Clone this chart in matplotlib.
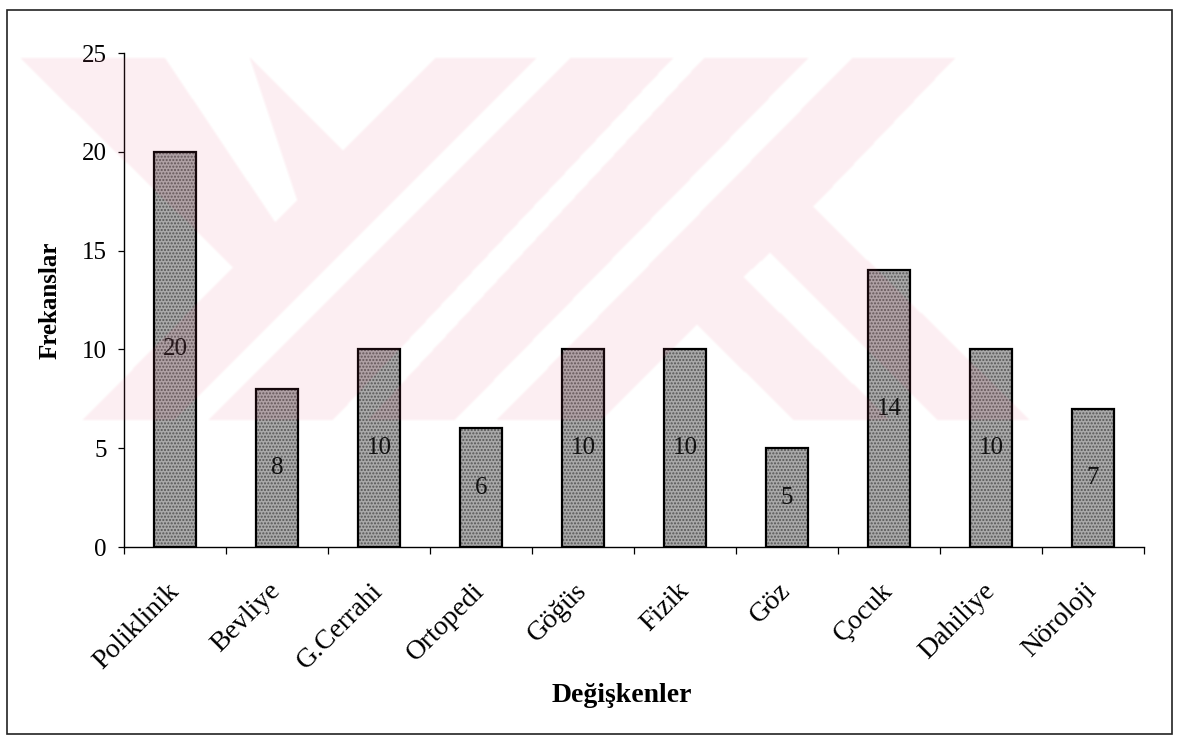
import numpy as np
import matplotlib
matplotlib.use("Agg")
import matplotlib.pyplot as plt
from matplotlib.path import Path
from matplotlib.patches import Rectangle

# polyclinic visit counts
departments = ["Poliklinik", "Bevliye", "G.Cerrahi", "Ortopedi", "Göğüs",
               "Fizik", "Göz", "Çocuk", "Dahiliye", "Nöroloji"]
frequencies = [20, 8, 10, 6, 10, 10, 5, 14, 10, 7]
y_ticks = [0, 5, 10, 15, 20, 25]

plt.rcParams["font.family"] = ["Liberation Serif", "DejaVu Serif"]

W, H = 1180, 740
fig = plt.figure(figsize=(W / 100, H / 100), dpi=100)
ax = fig.add_axes([124 / W, (H - 547) / H, 1020 / W, 494 / H])
ax.patch.set_alpha(0)

x = np.arange(len(departments))
# stippled grey fill, then a black outline on top
ax.bar(x, frequencies, width=0.42, color="#a9a9a9", edgecolor="#555555",
       hatch=".....", linewidth=0, zorder=2)
ax.bar(x, frequencies, width=0.42, fill=False, edgecolor="black",
       linewidth=1.6, zorder=3)
for xi, v in zip(x, frequencies):
    ax.text(xi, v / 2, str(v), ha="center", va="center", fontsize=18,
            color="#111111", zorder=4)

ax.set_xlim(-0.5, len(departments) - 0.5)
ax.set_ylim(0, 25)
ax.set_yticks(y_ticks)
ax.tick_params(axis="y", direction="out", length=4.5, width=0.9, pad=8,
               labelsize=18)

# tick marks between categories, labels under the bars
ax.set_xticks(np.arange(-0.5, len(departments), 1))
ax.set_xticklabels([])
ax.set_xticks(x, minor=True)
ax.set_xticklabels(departments, minor=True, rotation=45, ha="right",
                   va="center", rotation_mode="anchor", fontsize=20)
ax.tick_params(axis="x", which="major", direction="out", length=5, width=0.9)
ax.tick_params(axis="x", which="minor", length=0, pad=29)

for side in ("top", "right"):
    ax.spines[side].set_visible(False)
for side in ("left", "bottom"):
    ax.spines[side].set_linewidth(1.0)

ax.set_ylabel("Frekanslar", fontsize=18, fontweight="bold")
ax.yaxis.set_label_coords(-0.061, 0.5)
ax.set_xlabel("Değişkenler", fontsize=20, fontweight="bold", va="center")
ax.xaxis.set_label_coords(0.488, -0.30)

# frame around the whole chart
fig.patches.append(Rectangle((7 / W, 6 / H), 1165 / W, 724 / H,
                             transform=fig.transFigure, fill=False,
                             edgecolor="#222222", linewidth=1.2))

# faint pink logo stamped over the page (pixel coords, y down)
logo = [(20, 58), (955, 58), (813, 207), (1030, 420), (83, 420), (233, 267)]
gaps = [
    [(165, 58), (250, 58), (297, 200), (275, 222)],
    [(251, 58), (435, 58), (343, 150)],
    [(537, 58), (570, 58), (208, 420), (175, 420)],
    [(673, 58), (704, 58), (368, 420), (333, 420)],
    [(808, 58), (852, 58), (497, 420), (455, 420)],
    [(697, 325), (794, 420), (602, 420)],
    [(770, 253), (937, 420), (890, 420), (743, 277)],
]
yy, xx = np.mgrid[0:H, 0:W]
pts = np.column_stack([xx.ravel() + 0.5, yy.ravel() + 0.5])
mask = Path(logo).contains_points(pts)
for g in gaps:
    mask &= ~Path(g).contains_points(pts)
soft = mask.reshape(H, W).astype(float)
for axis in (0, 1):
    soft = (np.roll(soft, 1, axis) + soft + np.roll(soft, -1, axis)) / 3

stamp = np.zeros((H, W, 4))
stamp[..., :3] = np.array([232, 86, 124]) / 255
stamp[..., 3] = 0.10 * soft
fig.figimage(stamp, 0, 0, origin="upper", zorder=5)

fig.savefig("out.png", dpi=100)
